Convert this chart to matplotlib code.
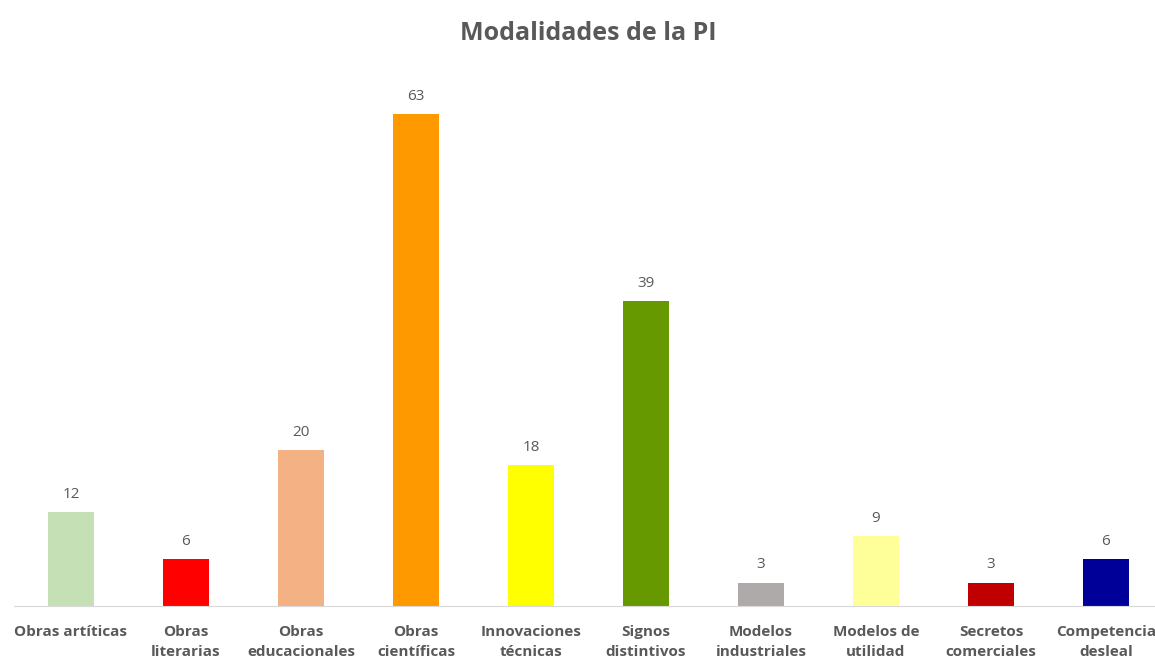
import numpy as np
import matplotlib.pyplot as plt

categories = ["Obras artíticas", "Obras\nliterarias", "Obras\neducacionales", "Obras\ncientíficas",
              "Innovaciones\ntécnicas", "Signos\ndistintivos", "Modelos\nindustriales",
              "Modelos de\nutilidad", "Secretos\ncomerciales", "Competencia\ndesleal"]
values = [12, 6, 20, 63, 18, 39, 3, 9, 3, 6]
colors = ["#C5E0B4", "#FF0000", "#F4B183", "#FF9900", "#FFFF00",
          "#669900", "#AEAAAA", "#FFFF99", "#C00000", "#000099"]

plt.rcParams['font.family'] = ['Open Sans', 'DejaVu Sans']
grey = "#595959"

fig = plt.figure(figsize=(11.55, 6.63), dpi=100)
ax = fig.add_axes([13.5 / 1155, 57 / 663, 1150 / 1155, (606 - 59) / 663])

x = np.arange(len(values))
bars = ax.bar(x, values, width=0.4, color=colors)
for b, v in zip(bars, values):
    ax.text(b.get_x() + b.get_width() / 2, v + 1.3, str(v), ha='center', va='bottom',
            fontsize=11, color=grey)

ax.set_xlim(-0.5, 9.5)
ax.set_ylim(0, 70)
ax.set_xticks(x)
ax.set_xticklabels(categories, fontsize=11, fontweight='bold', color=grey, linespacing=1.55)
ax.tick_params(axis='x', length=0, pad=14)
ax.set_yticks([])
for s in ['top', 'right', 'left']:
    ax.spines[s].set_visible(False)
ax.spines['bottom'].set_color("#D9D9D9")

fig.text(588 / 1155, 1 - 33 / 663, "Modalidades de la PI", ha='center', va='center',
         fontsize=18, fontweight='bold', color=grey)

fig.savefig("out.png", dpi=100)
